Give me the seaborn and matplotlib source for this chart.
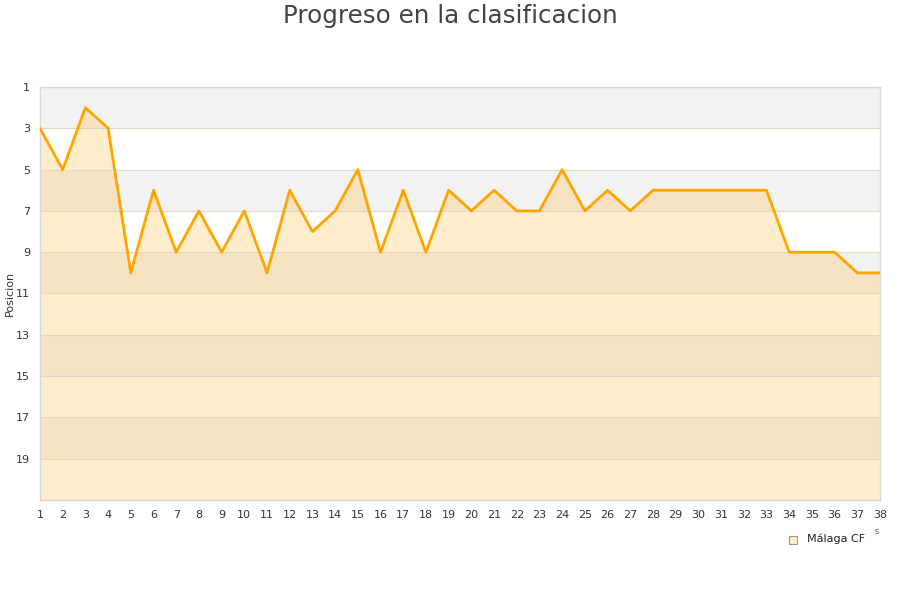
import numpy as np
import pandas as pd
import matplotlib
matplotlib.use('Agg')
import matplotlib.pyplot as plt
import seaborn as sns

jornadas = list(range(1, 39))
posicion = [3, 5, 2, 3, 10, 6, 9, 7, 9, 7, 10, 6, 8, 7, 5, 9, 6, 9, 6, 7,
            6, 7, 7, 5, 7, 6, 7, 6, 6, 6, 6, 6, 6, 9, 9, 9, 10, 10]
equipo = 'Málaga CF'
y_ticks = [1, 3, 5, 7, 9, 11, 13, 15, 17, 19]

df = pd.DataFrame({'jornada': jornadas, 'posicion': posicion})

sns.set_style('white')
plt.rcParams['font.family'] = ['DejaVu Sans']

fig = plt.figure(figsize=(9, 6), dpi=100)
ax = fig.add_axes([40 / 900, 100 / 600, 840 / 900, 413 / 600])

# alternating bands
for lo in range(1, 21, 4):
    ax.axhspan(lo, lo + 2, color='#f2f2f2', zorder=0, lw=0)

ax.fill_between(df['jornada'], df['posicion'], 21, color='#ffa500', alpha=0.2, lw=0, zorder=1)
sns.lineplot(data=df, x='jornada', y='posicion', color='#ffa500', lw=2, ax=ax, zorder=3)

ax.set_xlim(1, 38)
ax.set_ylim(21, 1)
ax.set_xticks(jornadas)
ax.set_yticks(y_ticks)
ax.tick_params(axis='both', length=0, labelsize=8, colors='#333333', pad=7)
ax.yaxis.grid(True, color='#e0d8c8', lw=0.8, zorder=2)
ax.set_axisbelow(False)
for s in ax.spines.values():
    s.set_color('#d8d8d8')
    s.set_linewidth(1)
ax.set_xlabel('')
ax.set_ylabel('Posicion', fontsize=8, color='#333333')
ax.yaxis.set_label_coords(-25 / 840, 0.5)

fig.text(0.5, 1 - 4 / 600, 'Progreso en la clasificacion', ha='center', va='top',
         fontsize=17.7, color='#444444')

# legend
fig.patches.append(plt.Rectangle((789 / 900, 1 - 544 / 600), 8 / 900, 8 / 600,
                                 transform=fig.transFigure, facecolor='#ffeecc',
                                 edgecolor='#999999', lw=0.8))
fig.text(807 / 900, 1 - 539 / 600, equipo, fontsize=8, color='#222222', va='center')
fig.text(875 / 900, 1 - 531 / 600, 's', fontsize=6, color='#555555', va='center')

fig.savefig('out.png', dpi=100)
